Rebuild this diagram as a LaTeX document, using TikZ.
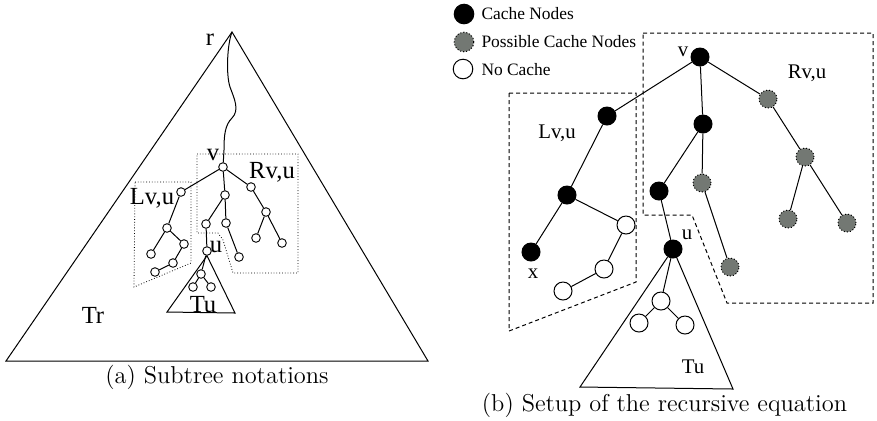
\documentclass[tikz,border=0pt]{standalone}
\usepackage{fontspec}
\newfontfamily\tms{Liberation Serif}
\definecolor{possgray}{RGB}{115,120,115}
\begin{document}
\begin{tikzpicture}[x=0.5pt,y=-0.5pt,line width=0.5pt,
  sn/.style={circle,draw,fill=white,inner sep=0pt,minimum size=4.3pt,line width=0.45pt},
  bn/.style={circle,draw,inner sep=0pt,minimum size=9pt},
  cache/.style={bn,fill=black},
  poss/.style={bn,fill=possgray,densely dotted},
  nocache/.style={bn,fill=white},
  dbox/.style={densely dotted,line width=0.4pt},
  dashbox/.style={line width=0.5pt,dash pattern=on 2pt off 1.5pt},
  lab/.style={font=\tms\fontsize{12.3}{14}\selectfont,inner sep=0pt},
  labb/.style={font=\tms\fontsize{10.4}{12}\selectfont,inner sep=0pt},
  leg/.style={font=\tms\fontsize{8.7}{10}\selectfont,inner sep=0pt,anchor=west},
  captext/.style={font=\fontsize{12.2}{14}\selectfont,inner sep=0pt}]
\useasboundingbox (0,0) rectangle (877,420);
% ================= (a) =================
\coordinate (ra) at (232,32);
\coordinate (bl) at (6,361);
\coordinate (br) at (428,361);
\draw (ra) -- (bl) -- (br) -- cycle;
\node[lab] at (210,40) {r};
\node[lab] at (93,315) {Tr};
% dotted boxes
\draw[dbox] (135,182) -- (191,182) -- (191,263) -- (134,287) -- cycle;
\draw[dbox] (197,154) -- (298,154) -- (298,273) -- (233,273) -- (223,240) -- (218,233) -- (197,233) -- cycle;
% nodes
\node[sn] (v) at (223,167) {};
\node[sn] (l1) at (181,192) {};
\node[sn] (m1) at (225,195) {};
\node[sn] (r1) at (251,187) {};
\node[sn] (l2) at (167,228) {};
\node[sn] (l3) at (184,244) {};
\node[sn] (l4) at (151,254) {};
\node[sn] (l5) at (173,263) {};
\node[sn] (l6) at (155,272) {};
\node[sn] (m2) at (206,224) {};
\node[sn] (m3) at (226,223) {};
\node[sn] (u) at (207,251) {};
\node[sn] (m4) at (239,257) {};
\node[sn] (r2) at (266,212) {};
\node[sn] (r3) at (256,238) {};
\node[sn] (r4) at (282,243) {};
\node[sn] (t1) at (201,274) {};
\node[sn] (t2) at (193,287) {};
\node[sn] (t3) at (211,287) {};
\coordinate (tul) at (167,312);
\coordinate (tur) at (235,313);
% wavy path
\draw (ra) .. controls (227,45) and (226,75) .. (230,87)
  .. controls (234,98) and (240,110) .. (232,118)
  .. controls (225,125) and (224,135) .. (224,150) -- (v);
\draw (v) -- (l1) (v) -- (m1) (v) -- (r1)
  (l1) -- (l2) (l2) -- (l4) (l2) -- (l3) (l3) -- (l5) (l5) -- (l6)
  (m1) -- (m2) (m1) -- (m3) (m2) -- (u) (m3) -- (m4)
  (r1) -- (r2) (r2) -- (r3) (r2) -- (r4)
  (u) -- (t1) (t1) -- (t2) (t1) -- (t3);
\draw (u.south) -- (tul) -- (tur) -- (u.south);
\node[lab] at (213,155) {v};
\node[lab] at (272,172) {Rv,u};
\node[lab] at (152,198) {Lv,u};
\node[lab] at (216,247) {u};
\node[lab] at (203,305) {Tu};
\node[captext] at (217,377) {(a) Subtree notations};
% ================= (b) =================
% legend
\node[cache,minimum size=9.8pt] (lg1) at (464,14) {};
\node[poss,minimum size=9.8pt] (lg2) at (464,42) {};
\node[nocache,minimum size=9.8pt] (lg3) at (463,69) {};
\node[leg] at (481,14) {Cache Nodes};
\node[leg] at (481,42) {Possible Cache Nodes};
\node[leg] at (481,70) {No Cache};
% boxes
\draw[dashbox] (509,93) -- (636,93) -- (636,282) -- (509,331) -- cycle;
\draw[dashbox] (643,33) -- (873,33) -- (873,303) -- (727,303) -- (692,215) -- (643,215) -- cycle;
% nodes
\node[cache] (bv) at (700,57) {};
\node[cache] (ba) at (607,116) {};
\node[cache] (bb) at (567,195) {};
\node[cache] (bx) at (531,252) {};
\node[nocache] (bc) at (626,225) {};
\node[nocache] (bd) at (604,269) {};
\node[nocache] (be) at (563,291) {};
\node[cache] (bm1) at (703,124) {};
\node[cache] (bm2) at (659,191) {};
\node[cache] (bu) at (673,249) {};
\node[poss] (bg1) at (702,183) {};
\node[poss] (bg2) at (730,267) {};
\node[poss] (br1) at (768,99) {};
\node[poss] (br2) at (805,157) {};
\node[poss] (br3) at (788,219) {};
\node[poss] (br4) at (847,223) {};
\node[nocache] (bt1) at (661,301) {};
\node[nocache] (bt2) at (639,323) {};
\node[nocache] (bt3) at (685,325) {};
\coordinate (btl) at (580,387);
\coordinate (btr) at (733,389);
\draw (bv) -- (ba) (bv) -- (bm1) (bv) -- (br1)
  (ba) -- (bb) (bb) -- (bx) (bb) -- (bc) (bc) -- (bd) (bd) -- (be)
  (bm1) -- (bm2) (bm1) -- (bg1) (bm2) -- (bu) (bg1) -- (bg2)
  (br1) -- (br2) (br2) -- (br3) (br2) -- (br4)
  (bu) -- (bt1) (bt1) -- (bt2) (bt1) -- (bt3);
\draw (bu) -- (btl) -- (btr) -- (bu);
\node[labb] at (683,52) {v};
\node[labb] at (807,73) {Rv,u};
\node[labb] at (557,133) {Lv,u};
\node[labb] at (533,274) {x};
\node[labb] at (687,235) {u};
\node[labb] at (693,367) {Tu};
\node[captext] at (664.5,405) {(b) Setup of the recursive equation};
\end{tikzpicture}
\end{document}
